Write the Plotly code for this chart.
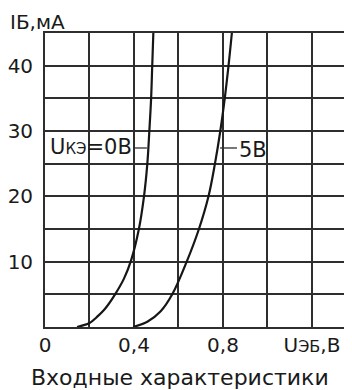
import plotly.graph_objects as go

# Data
u_0v = [0.144, 0.20, 0.232, 0.27, 0.315, 0.355, 0.387, 0.422, 0.445, 0.46, 0.469, 0.477, 0.482, 0.487]
i_0v = [0.0, 0.6, 1.5, 2.8, 5.0, 7.4, 10.2, 15.0, 20.0, 25.0, 30.0, 35.0, 40.0, 45.0]

u_5v = [0.396, 0.46, 0.52, 0.572, 0.637, 0.692, 0.735, 0.764, 0.788, 0.808, 0.825, 0.84]
i_5v = [0.0, 0.8, 2.4, 5.0, 10.0, 15.0, 20.0, 25.0, 30.0, 35.0, 40.0, 45.0]

x_tickvals = [0, 0.2, 0.4, 0.6, 0.8, 1.0, 1.2]
x_ticktext = ["0", "", "0,4", "", "0,8", "", "U<span style='font-size:16px'>ЭБ</span>,В"]
y_tickvals = [0, 5, 10, 15, 20, 25, 30, 35, 40, 45]
y_ticktext = ["", "", "10", "", "20", "", "30", "", "40", ""]

# Curve labels: text, leader start x, leader end x, y (mA)
label_texts = ["U<span style='font-size:15px'>КЭ</span>=0В", "5В"]
leader_x0 = [0.396, 0.787]
leader_x1 = [0.458, 0.863]
leader_y = [27.4, 27.4]

FONT = "DejaVu Sans"
GRID = "#2e2e2e"
LINE = "#161616"

fig = go.Figure()
fig.add_trace(go.Scatter(x=u_0v, y=i_0v, mode="lines", line=dict(color=LINE, width=2.2, shape="spline", smoothing=1.0), showlegend=False))
fig.add_trace(go.Scatter(x=u_5v, y=i_5v, mode="lines", line=dict(color=LINE, width=2.2, shape="spline", smoothing=1.0), showlegend=False))

for x0, x1, y in zip(leader_x0, leader_x1, leader_y):
    fig.add_shape(type="line", x0=x0, x1=x1, y0=y, y1=y, xref="x", yref="y", line=dict(color=GRID, width=1.3))

fig.add_annotation(x=leader_x0[0], y=leader_y[0], xref="x", yref="y", text=label_texts[0], showarrow=False,
                   xanchor="right", yanchor="middle", font=dict(family=FONT, size=21, color="#1a1a1a"), xshift=1, yshift=1)
fig.add_annotation(x=leader_x1[1], y=leader_y[1], xref="x", yref="y", text=label_texts[1], showarrow=False,
                   xanchor="left", yanchor="middle", font=dict(family=FONT, size=21, color="#1a1a1a"), xshift=0, yshift=-2)

fig.add_annotation(x=-0.024, y=1, xref="paper", yref="paper", yshift=11, text="IБ,мА", showarrow=False,
                   xanchor="center", yanchor="middle", font=dict(family=FONT, size=20, color="#1a1a1a"))
fig.add_annotation(x=0.44, y=0, xref="paper", yref="paper", yshift=-50, text="Входные характеристики", showarrow=False,
                   xanchor="center", yanchor="middle", font=dict(family=FONT, size=22, color="#1a1a1a"))

fig.update_xaxes(range=[0, 1.38], tickvals=x_tickvals, ticktext=x_ticktext, showgrid=True, gridcolor=GRID, gridwidth=1.8,
                 showline=True, linecolor=GRID, linewidth=1.8, mirror=True, zeroline=False, ticks="", automargin=False,
                 tickfont=dict(family=FONT, size=20, color="#1a1a1a"), ticklabelstandoff=-1, fixedrange=True)
fig.update_yaxes(range=[0, 45], tickvals=y_tickvals, ticktext=y_ticktext, showgrid=True, gridcolor=GRID, gridwidth=1.6,
                 showline=True, linecolor=GRID, linewidth=1.8, mirror=False, zeroline=False, ticks="", automargin=False,
                 tickfont=dict(family=FONT, size=20, color="#1a1a1a"), ticklabelstandoff=6, fixedrange=True)

# The page body has an 8px default margin, so the figure is 8px smaller and margins shifted
fig.update_layout(width=344, height=382, margin=dict(l=37, r=0, t=25, b=63), plot_bgcolor="white", paper_bgcolor="white",
                  font=dict(family=FONT))
fig.write_html("out.html", config={"displayModeBar": False})
